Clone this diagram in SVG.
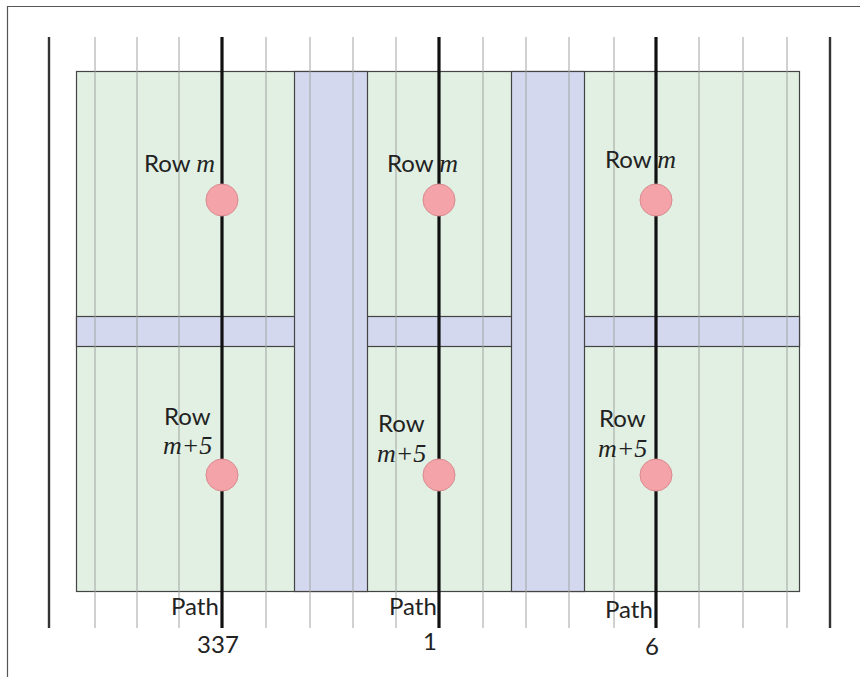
<svg xmlns="http://www.w3.org/2000/svg" width="860" height="677" viewBox="0 0 860 677">
<style>
.green{fill:#e1f0e3;stroke:#444;stroke-width:1.2}
.blue{fill:#d3d8ef;stroke:#444;stroke-width:1.2}
.thin{stroke:#a0a4a0;stroke-width:1}
.thick{stroke:#111;stroke-width:3.2}
.edge{stroke:#333;stroke-width:2.4}
.dot{fill:#f4a3a8;stroke:#d98a8f;stroke-width:1}
.lbl{font-family:"Lato","Open Sans","Liberation Sans",sans-serif;font-size:24px;fill:#222}
.it{font-family:"Liberation Serif",serif;font-style:italic;font-size:26px;fill:#222}
</style>
<rect x="0" y="0" width="860" height="677" fill="#fff"/>
<path d="M7.5 700 V6.5 H870" fill="none" stroke="#555" stroke-width="1.2"/>
<g id="regions">
<rect class="green" x="76.5" y="71.5" width="723" height="520"/>
<rect class="blue" x="76.5" y="316.5" width="723" height="30"/>
<rect class="blue" x="294.5" y="71.5" width="73" height="520"/>
<rect class="blue" x="511.5" y="71.5" width="73" height="520"/>
</g>
<g id="connectors">
<g class="thin">
<line x1="95" y1="37" x2="95" y2="628"/>
<line x1="137" y1="37" x2="137" y2="628"/>
<line x1="179" y1="37" x2="179" y2="628"/>
<line x1="266" y1="37" x2="266" y2="628"/>
<line x1="310" y1="37" x2="310" y2="628"/>
<line x1="353" y1="37" x2="353" y2="628"/>
<line x1="396" y1="37" x2="396" y2="628"/>
<line x1="483" y1="37" x2="483" y2="628"/>
<line x1="526" y1="37" x2="526" y2="628"/>
<line x1="569" y1="37" x2="569" y2="628"/>
<line x1="614" y1="37" x2="614" y2="628"/>
<line x1="699" y1="37" x2="699" y2="628"/>
<line x1="743" y1="37" x2="743" y2="628"/>
<line x1="787" y1="37" x2="787" y2="628"/>
</g>
<line class="edge" x1="49" y1="37" x2="49" y2="628"/>
<line class="edge" x1="830" y1="37" x2="830" y2="628"/>
<line class="thick" x1="222" y1="37" x2="222" y2="628"/>
<line class="thick" x1="439" y1="37" x2="439" y2="628"/>
<line class="thick" x1="656" y1="37" x2="656" y2="628"/>
</g>
<g id="row-m-337"><circle class="dot" cx="222" cy="200" r="16"/><text x="144" y="172" class="lbl">Row <tspan class="it">m</tspan></text></g>
<g id="row-m-1"><circle class="dot" cx="439" cy="200" r="16"/><text x="387" y="172" class="lbl">Row <tspan class="it">m</tspan></text></g>
<g id="row-m-6"><circle class="dot" cx="656" cy="200" r="16"/><text x="605" y="168" class="lbl">Row <tspan class="it">m</tspan></text></g>
<g id="row-m5-337"><circle class="dot" cx="222" cy="475" r="16"/><text x="164" y="425" class="lbl">Row</text><text x="163" y="454" class="it">m+5</text></g>
<g id="row-m5-1"><circle class="dot" cx="439" cy="475" r="16"/><text x="378" y="432" class="lbl">Row</text><text x="377" y="462" class="it">m+5</text></g>
<g id="row-m5-6"><circle class="dot" cx="656" cy="475" r="16"/><text x="599" y="427" class="lbl">Row</text><text x="598" y="457" class="it">m+5</text></g>
<g id="path-337"><text x="171" y="615" class="lbl">Path</text><text x="218" y="653" class="lbl" text-anchor="middle">337</text></g>
<g id="path-1"><text x="389" y="615" class="lbl">Path</text><text x="430" y="650" class="lbl" text-anchor="middle">1</text></g>
<g id="path-6"><text x="605" y="618" class="lbl">Path</text><text x="652" y="655" class="lbl" text-anchor="middle">6</text></g>
</svg>
